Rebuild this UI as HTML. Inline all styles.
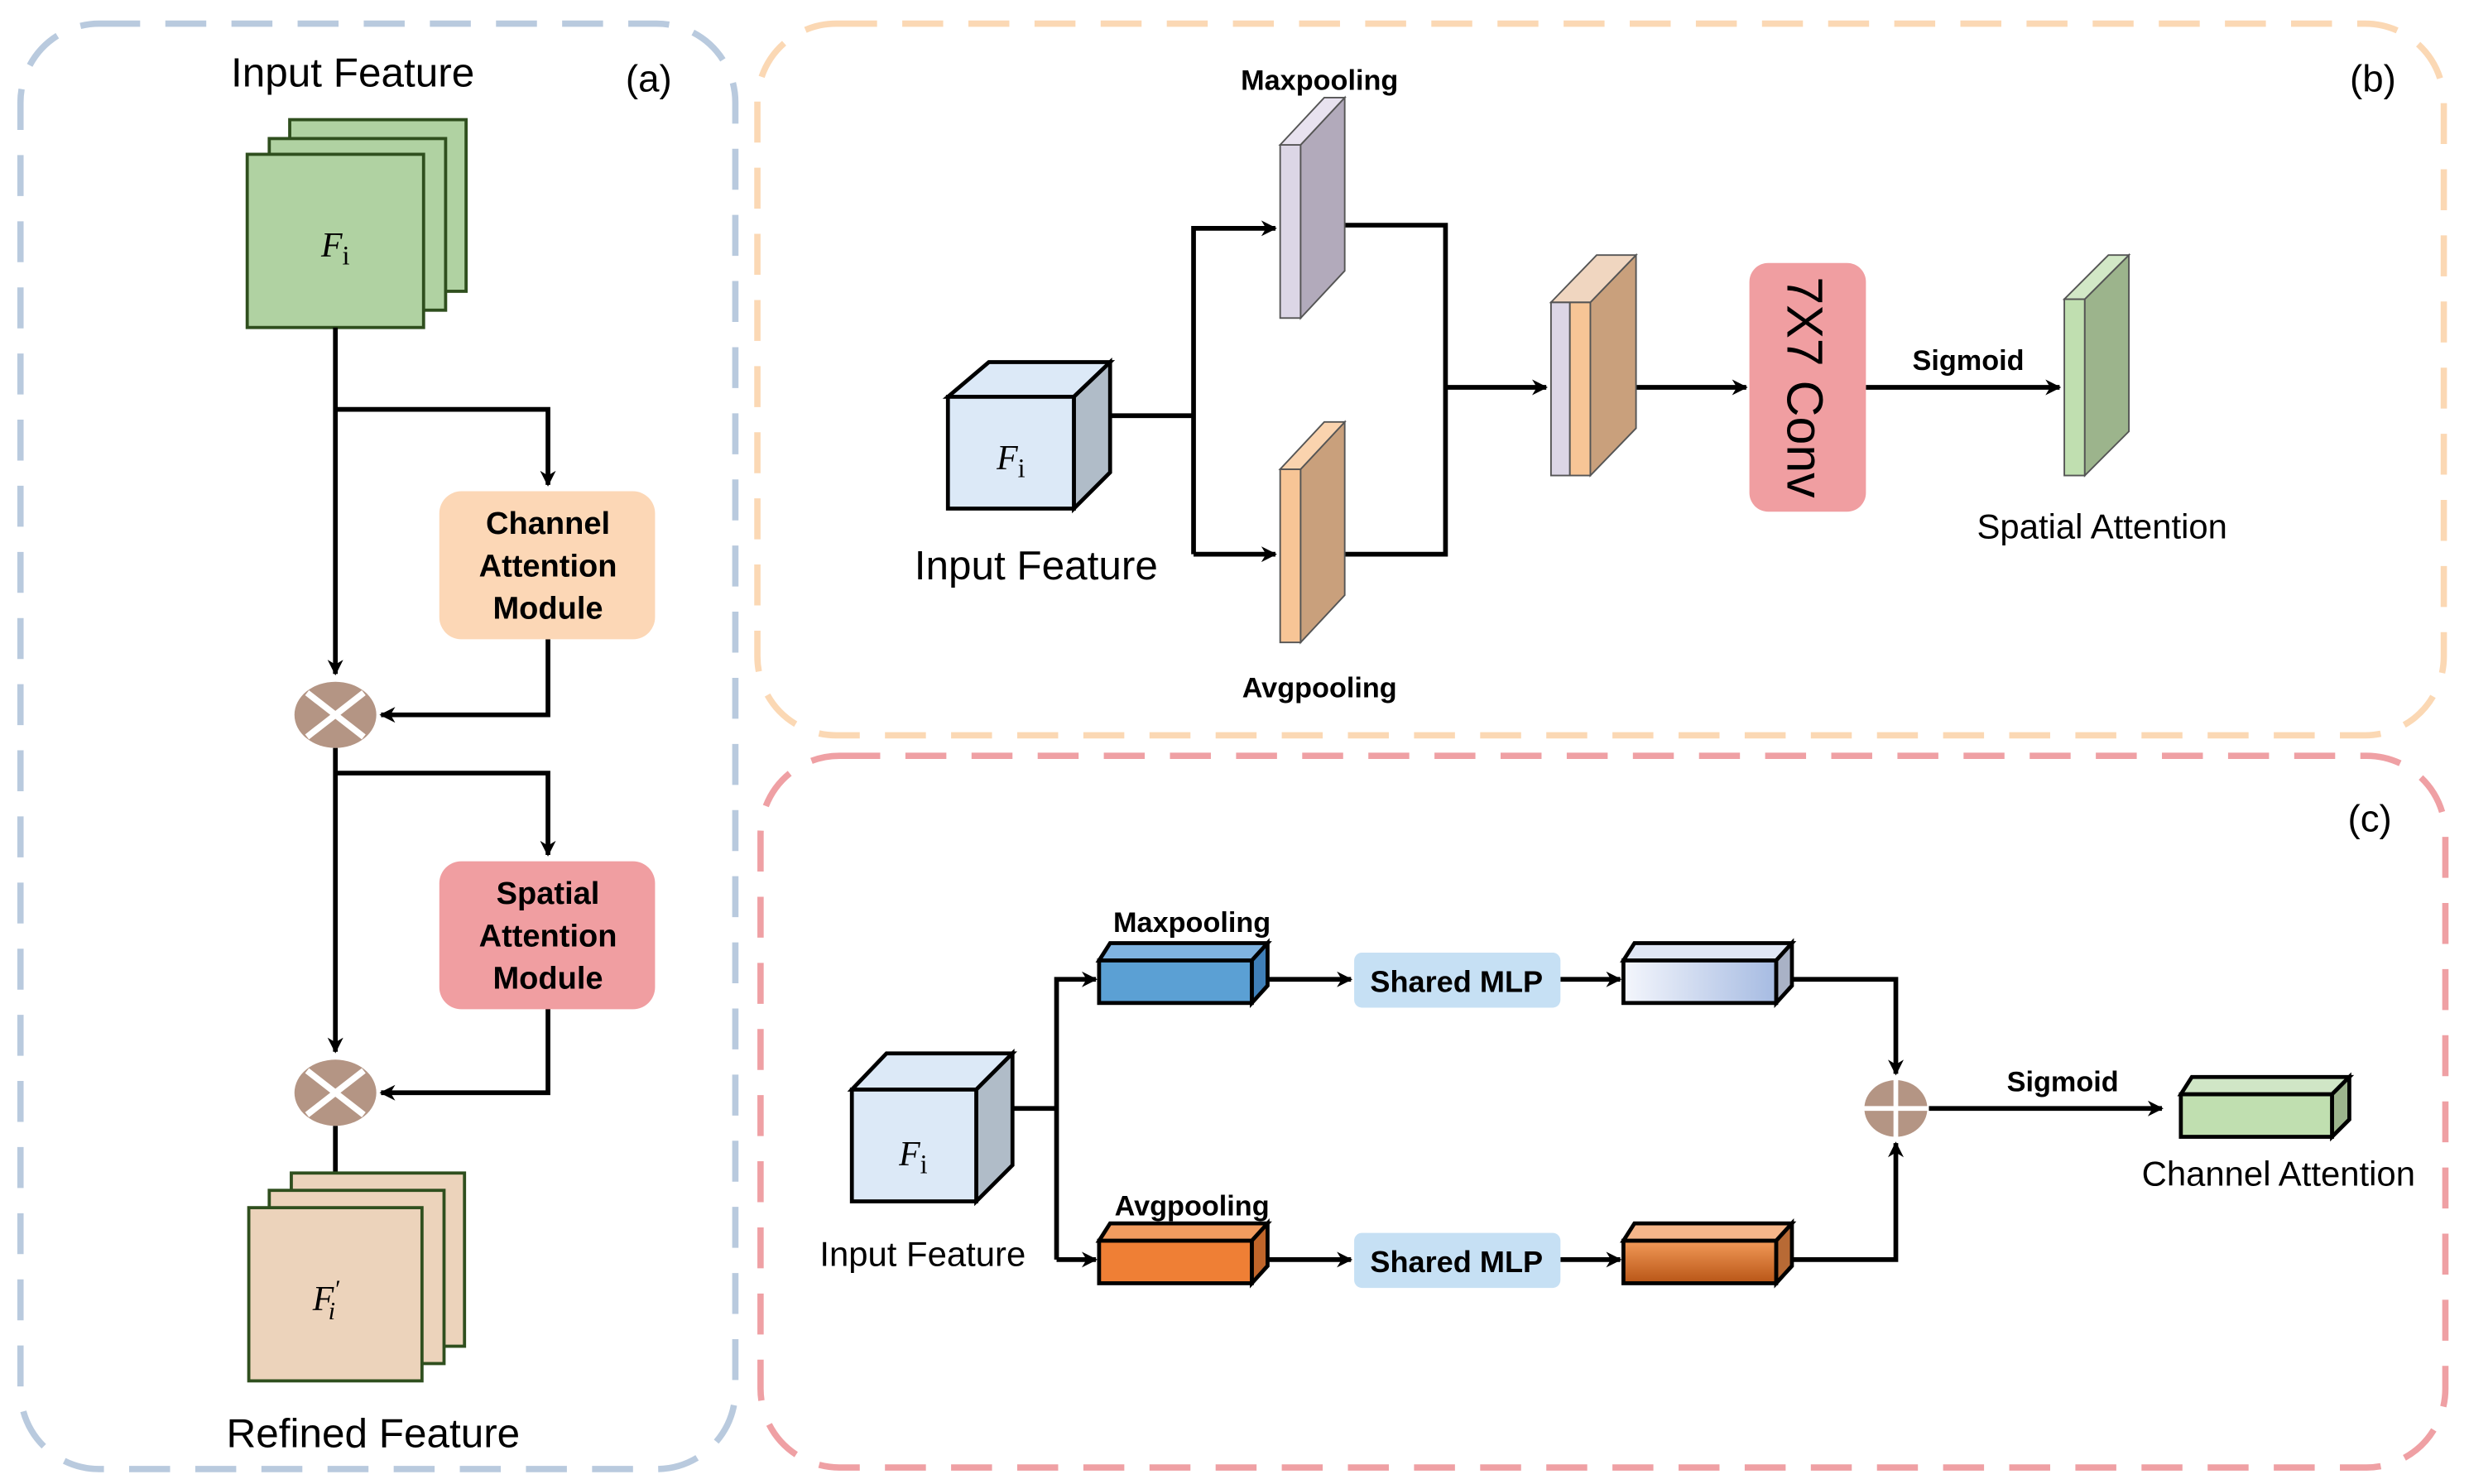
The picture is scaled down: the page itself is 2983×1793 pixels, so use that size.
<!DOCTYPE html>
<html><head><meta charset="utf-8"><style>html,body{margin:0;padding:0;background:#fff}svg{display:block}</style></head><body>
<svg width="2983" height="1793" viewBox="0 0 1568 942.5" preserveAspectRatio="none" xmlns="http://www.w3.org/2000/svg" font-family="Liberation Sans, sans-serif">
<defs>
<marker id="ar" markerWidth="10" markerHeight="10" refX="9" refY="5" orient="auto" markerUnits="userSpaceOnUse"><path d="M0,0 L10,5 L0,10 L3,5 Z" fill="#000"/></marker>
<linearGradient id="gb" x1="0" x2="1"><stop offset="0" stop-color="#f4f6fc"/><stop offset="1" stop-color="#a6bbe2"/></linearGradient>
<linearGradient id="go" x1="0" y1="0" x2="0" y2="1"><stop offset="0" stop-color="#f29a58"/><stop offset="1" stop-color="#b85516"/></linearGradient>
</defs>
<!-- panels -->
<rect x="13" y="15" width="454" height="918" rx="50" fill="none" stroke="#b9cade" stroke-width="4" stroke-dasharray="26,16"/>
<rect x="481" y="15" width="1071" height="452" rx="50" fill="none" stroke="#fbd8b4" stroke-width="4" stroke-dasharray="26,16"/>
<rect x="483" y="480" width="1070" height="452" rx="50" fill="none" stroke="#efa0a4" stroke-width="4" stroke-dasharray="26,16"/>

<!-- (a) -->
<text x="224" y="55" font-size="26" text-anchor="middle">Input Feature</text>
<text x="412" y="58" font-size="24" text-anchor="middle">(a)</text>
<g fill="#b0d2a2" stroke="#2f4f1e" stroke-width="2">
<rect x="184" y="76" width="112" height="109"/><rect x="171" y="88" width="112" height="109"/><rect x="157" y="98" width="112" height="110"/></g>
<text x="213" y="163" font-size="22" font-family="Liberation Serif, serif" text-anchor="middle"><tspan font-style="italic">F</tspan><tspan font-size="17" dy="5">i</tspan></text>
<g stroke="#000" stroke-width="3" fill="none">
<path d="M213,208 V428" marker-end="url(#ar)"/>
<path d="M213,260 H348 V308" marker-end="url(#ar)"/>
<path d="M348,406 V454 H242" marker-end="url(#ar)"/>
<path d="M213,475 V668" marker-end="url(#ar)"/>
<path d="M213,491 H348 V543" marker-end="url(#ar)"/>
<path d="M348,640 V694 H242" marker-end="url(#ar)"/>
<path d="M213,715 V745"/>
</g>
<rect x="279" y="312" width="137" height="94" rx="14" fill="#fcd7b6"/>
<g font-size="20" font-weight="bold" text-anchor="middle"><text x="348" y="339">Channel</text><text x="348" y="366">Attention</text><text x="348" y="393">Module</text></g>
<rect x="279" y="547" width="137" height="94" rx="14" fill="#f09ea1"/>
<g font-size="20" font-weight="bold" text-anchor="middle"><text x="348" y="574">Spatial</text><text x="348" y="601">Attention</text><text x="348" y="628">Module</text></g>
<g><ellipse cx="213" cy="454" rx="26" ry="21" fill="#b49584"/><path d="M195,440 L231,468 M231,440 L195,468" stroke="#fff" stroke-width="4"/></g>
<g><ellipse cx="213" cy="694" rx="26" ry="21" fill="#b49584"/><path d="M195,680 L231,708 M231,680 L195,708" stroke="#fff" stroke-width="4"/></g>
<g fill="#ecd3bb" stroke="#2f4f1e" stroke-width="2">
<rect x="185" y="745" width="110" height="110"/><rect x="171" y="756" width="111" height="110"/><rect x="158" y="767" width="110" height="110"/></g>
<text x="207" y="832" font-size="22" font-family="Liberation Serif, serif" font-style="italic" text-anchor="middle">F<tspan font-size="16" dy="-8">′</tspan><tspan font-size="16" dx="-7" dy="14">i</tspan></text>
<text x="237" y="919" font-size="26" text-anchor="middle">Refined Feature</text>

<!-- (b) -->
<text x="1507" y="58" font-size="24" text-anchor="middle">(b)</text>
<g stroke="#000" stroke-width="2.5">
<polygon points="602,252 628,230 705,230 682,252" fill="#dce9f7"/>
<polygon points="682,252 705,230 705,300 682,323" fill="#b0bcc8"/>
<rect x="602" y="252" width="80" height="71" fill="#dce9f7"/></g>
<text x="642" y="298" font-size="22" font-family="Liberation Serif, serif" text-anchor="middle"><tspan font-style="italic">F</tspan><tspan font-size="17" dy="5">i</tspan></text>
<text x="658" y="368" font-size="26" text-anchor="middle">Input Feature</text>
<g stroke="#000" stroke-width="3" fill="none">
<path d="M705,264 H758"/>
<path d="M758,352 V145 H810" marker-end="url(#ar)"/>
<path d="M758,352 H810" marker-end="url(#ar)"/>
<path d="M854,143 H918 V352 H854"/>
<path d="M918,246 H982" marker-end="url(#ar)"/>
<path d="M1039,246 H1109" marker-end="url(#ar)"/>
<path d="M1185,246 H1308" marker-end="url(#ar)"/>
</g>
<g stroke="#555" stroke-width="1">
<rect x="813" y="92" width="13" height="110" fill="#dcd6e6"/><polygon points="826,92 854,62 854,172 826,202" fill="#b2aabb"/><polygon points="813,92 841,62 854,62 826,92" fill="#e8e2ef"/>
<rect x="813" y="298" width="13" height="110" fill="#f7c596"/><polygon points="826,298 854,268 854,378 826,408" fill="#c9a07c"/><polygon points="813,298 841,268 854,268 826,298" fill="#fad3ae"/>
<rect x="985" y="192" width="12" height="110" fill="#dcd6e6"/><rect x="997" y="192" width="13" height="110" fill="#f7c596"/>
<polygon points="1010,192 1039,162 1039,272 1010,302" fill="#c9a07c"/><polygon points="985,192 1014,162 1039,162 1010,192" fill="#f0d6c0"/>
<rect x="1311" y="190" width="13" height="112" fill="#c0dfb0"/><polygon points="1324,190 1352,162 1352,274 1324,302" fill="#9cb48c"/><polygon points="1311,190 1339,162 1352,162 1324,190" fill="#d2e8c6"/>
</g>
<text x="838" y="57" font-size="18" font-weight="bold" text-anchor="middle">Maxpooling</text>
<text x="838" y="443" font-size="18" font-weight="bold" text-anchor="middle">Avgpooling</text>
<rect x="1111" y="167" width="74" height="158" rx="12" fill="#f09ea1"/>
<text transform="translate(1135,246) rotate(90)" font-size="32" text-anchor="middle">7X7 Conv</text>
<text x="1250" y="235" font-size="18" font-weight="bold" text-anchor="middle">Sigmoid</text>
<text x="1335" y="342" font-size="22" text-anchor="middle">Spatial Attention</text>

<!-- (c) -->
<text x="1505" y="528" font-size="24" text-anchor="middle">(c)</text>
<g stroke="#000" stroke-width="2.5">
<polygon points="541,692 563,669 643,669 620,692" fill="#dce9f7"/>
<polygon points="620,692 643,669 643,740 620,763" fill="#b0bcc8"/>
<rect x="541" y="692" width="79" height="71" fill="#dce9f7"/></g>
<text x="580" y="740" font-size="22" font-family="Liberation Serif, serif" text-anchor="middle"><tspan font-style="italic">F</tspan><tspan font-size="17" dy="5">i</tspan></text>
<text x="586" y="804" font-size="22" text-anchor="middle">Input Feature</text>
<g stroke="#000" stroke-width="3" fill="none">
<path d="M643,704 H671"/>
<path d="M671,800 V622 H696" marker-end="url(#ar)"/>
<path d="M671,800 H696" marker-end="url(#ar)"/>
<path d="M805,622 H858" marker-end="url(#ar)"/>
<path d="M991,622 H1029" marker-end="url(#ar)"/>
<path d="M805,800 H858" marker-end="url(#ar)"/>
<path d="M991,800 H1029" marker-end="url(#ar)"/>
<path d="M1138,622 H1204 V682" marker-end="url(#ar)"/>
<path d="M1138,800 H1204 V726" marker-end="url(#ar)"/>
<path d="M1225,704 H1373" marker-end="url(#ar)"/>
</g>
<g stroke="#000" stroke-width="2.5">
<polygon points="698,610 705,599 805,599 795,610" fill="#7fb3e0"/><polygon points="795,610 805,599 805,626 795,637" fill="#3f7fb8"/><rect x="698" y="610" width="97" height="27" fill="#5ba0d4"/>
<polygon points="698,788 705,777 805,777 795,788" fill="#f29c5f"/><polygon points="795,788 805,777 805,804 795,815" fill="#c0652a"/><rect x="698" y="788" width="97" height="27" fill="#ef7f35"/>
<polygon points="1031,610 1038,599 1138,599 1128,610" fill="#dfe6f4"/><polygon points="1128,610 1138,599 1138,626 1128,637" fill="#a9b2c6"/><rect x="1031" y="610" width="97" height="27" fill="url(#gb)"/>
<polygon points="1031,788 1038,777 1138,777 1128,788" fill="#f5b68a"/><polygon points="1128,788 1138,777 1138,804 1128,815" fill="#b86a35"/><rect x="1031" y="788" width="97" height="27" fill="url(#go)"/>
<polygon points="1385,695 1392,684 1492,684 1481,695" fill="#d0e6c6"/><polygon points="1481,695 1492,684 1492,711 1481,722" fill="#9cb48c"/><rect x="1385" y="695" width="96" height="27" fill="#c0dfb0"/>
</g>
<text x="757" y="592" font-size="18" font-weight="bold" text-anchor="middle">Maxpooling</text>
<text x="757" y="772" font-size="18" font-weight="bold" text-anchor="middle">Avgpooling</text>
<rect x="860" y="605" width="131" height="35" rx="5" fill="#c6e0f4"/>
<text x="925" y="630" font-size="19" font-weight="bold" text-anchor="middle">Shared MLP</text>
<rect x="860" y="783" width="131" height="35" rx="5" fill="#c6e0f4"/>
<text x="925" y="808" font-size="19" font-weight="bold" text-anchor="middle">Shared MLP</text>
<ellipse cx="1204" cy="704" rx="20" ry="18" fill="#b49584"/><path d="M1184,704 H1224 M1204,686 V722" stroke="#fff" stroke-width="3"/>
<text x="1310" y="693" font-size="18" font-weight="bold" text-anchor="middle">Sigmoid</text>
<text x="1447" y="753" font-size="22" text-anchor="middle">Channel Attention</text>
</svg>
</body></html>
